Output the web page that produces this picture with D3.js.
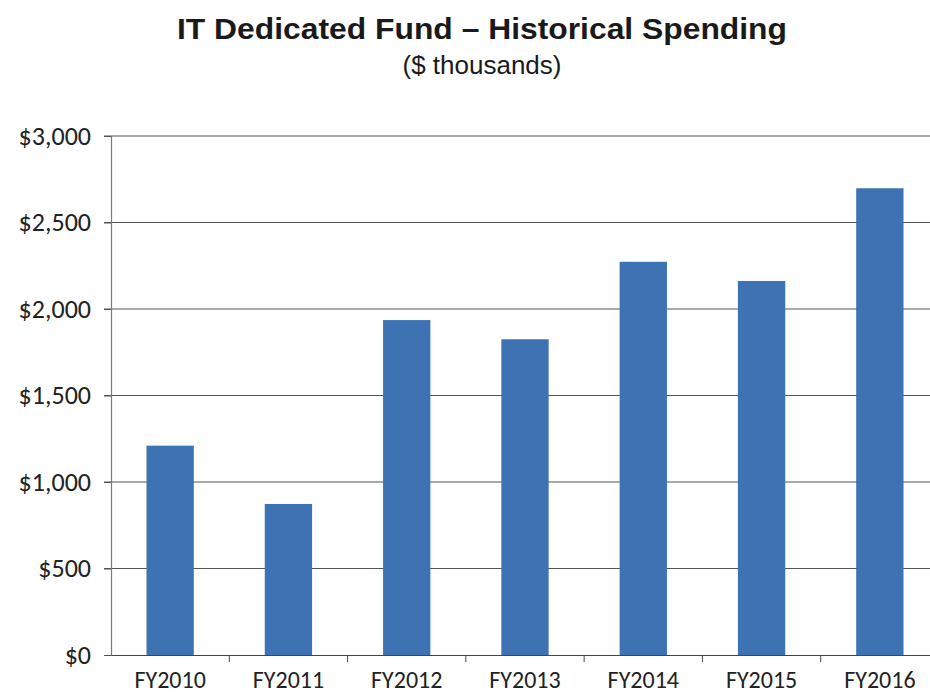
<!DOCTYPE html>
<html><head><meta charset="utf-8">
<script src="https://cdn.jsdelivr.net/npm/d3@7"></script>
<style>body{margin:0;background:#fff}svg{display:block}</style>
</head><body>
<svg id="c" width="930" height="698"></svg>
<script>
const categories = ["FY2010","FY2011","FY2012","FY2013","FY2014","FY2015","FY2016"];
const spending = [1210, 873, 1936, 1825, 2273, 2162, 2698];
const yTicks = [0, 500, 1000, 1500, 2000, 2500, 3000];
const titleText = "IT Dedicated Fund \u2013 Historical Spending";
const subtitleText = "($ thousands)";

const svg = d3.select("#c");
const plotL = 111, plotR = 939, plotT = 136, plotB = 655;

const x = d3.scaleBand().domain(categories).range([plotL, plotR]).paddingInner(0.6).paddingOuter(0.3);
const xb = d3.scaleBand().domain(categories).range([plotL, plotR]);
const y = d3.scaleLinear().domain([0, 3000]).range([plotB, plotT]);

// title
svg.append("text").attr("x", 482).attr("y", 39).attr("text-anchor", "middle")
  .attr("font-family", "Liberation Sans, Arial, sans-serif").attr("font-weight", "bold")
  .attr("font-size", 30).attr("fill", "#1a1a1a").attr("textLength", 610).attr("lengthAdjust","spacingAndGlyphs").text(titleText);
svg.append("text").attr("x", 482).attr("y", 74).attr("text-anchor", "middle")
  .attr("font-family", "Liberation Sans, Arial, sans-serif")
  .attr("font-size", 26).attr("fill", "#1a1a1a").text(subtitleText);

// gridlines
svg.append("g").selectAll("line").data(yTicks.filter(d => d > 0)).join("line")
  .attr("x1", plotL - 7).attr("x2", plotR).attr("y1", d => y(d)).attr("y2", d => y(d))
  .attr("stroke", "#555").attr("stroke-width", 1.2);

// bars
svg.append("g").selectAll("rect").data(spending).join("rect")
  .attr("x", (d, i) => x(categories[i])).attr("width", x.bandwidth())
  .attr("y", d => y(d)).attr("height", d => y(0) - y(d))
  .attr("fill", "#3d72b3");

// y axis
const yAxis = d3.axisLeft(y).tickValues(yTicks).tickSize(7).tickPadding(13)
  .tickFormat(d => "$" + d3.format(",")(d));
const gy = svg.append("g").attr("transform", `translate(${plotL},0)`).call(yAxis);
gy.select(".domain").attr("stroke", "#6f8080").attr("stroke-width", 1.2);
gy.selectAll(".tick line").attr("stroke", "#555");
gy.selectAll("text").attr("font-family", "Carlito, Lato, sans-serif").attr("font-size", 26).attr("fill", "#222");

// x axis
const xAxis = d3.axisBottom(xb).tickSize(0).tickPadding(16);
const gx = svg.append("g").attr("transform", `translate(0,${plotB})`).call(xAxis);
gx.select(".domain").attr("stroke", "#444").attr("stroke-width", 1.2);
gx.selectAll("text").attr("font-family", "Carlito, Lato, sans-serif").attr("font-size", 24).attr("fill", "#222");
// category boundary ticks
gx.append("g").selectAll("line").data(categories.slice(1)).join("line")
  .attr("x1", d => xb(d)).attr("x2", d => xb(d)).attr("y1", 0).attr("y2", 7)
  .attr("stroke", "#444");
</script>
</body></html>
